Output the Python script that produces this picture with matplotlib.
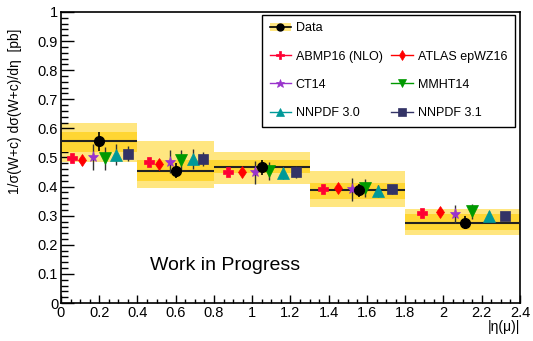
import matplotlib
matplotlib.use("Agg")
import matplotlib.pyplot as plt
from matplotlib.lines import Line2D
from matplotlib.patches import Patch
from matplotlib.ticker import MultipleLocator, FuncFormatter

plt.rcParams['font.family'] = ['Liberation Sans', 'DejaVu Sans']

# bins in |eta(mu)|
bin_lo = [0.0, 0.4, 0.8, 1.3, 1.8]
bin_hi = [0.4, 0.8, 1.3, 1.8, 2.4]

# measured data
data_x = [0.20, 0.60, 1.05, 1.56, 2.11]
data_y = [0.555, 0.455, 0.466, 0.387, 0.276]
data_err = [0.034, 0.025, 0.025, 0.022, 0.022]
band_outer_lo = [0.485, 0.395, 0.410, 0.330, 0.234]
band_outer_hi = [0.620, 0.555, 0.520, 0.454, 0.323]
band_inner_lo = [0.519, 0.420, 0.445, 0.357, 0.250]
band_inner_hi = [0.588, 0.490, 0.490, 0.412, 0.306]

# predictions: x positions, values, errors
abmp_x = [0.056, 0.46, 0.875, 1.37, 1.89]
abmp_y = [0.497, 0.486, 0.449, 0.392, 0.309]
abmp_err = [0.010, 0.010, 0.010, 0.008, 0.008]

atlas_x = [0.11, 0.51, 0.945, 1.45, 1.98]
atlas_y = [0.490, 0.478, 0.449, 0.395, 0.313]
atlas_err = [0.015, 0.015, 0.012, 0.012, 0.010]

ct14_x = [0.17, 0.57, 1.016, 1.52, 2.06]
ct14_y = [0.503, 0.486, 0.449, 0.390, 0.306]
ct14_err = [0.045, 0.040, 0.040, 0.040, 0.030]

mmht_x = [0.23, 0.63, 1.088, 1.59, 2.15]
mmht_y = [0.497, 0.490, 0.454, 0.395, 0.315]
mmht_err = [0.040, 0.035, 0.030, 0.030, 0.025]

nnpdf30_x = [0.286, 0.69, 1.16, 1.66, 2.24]
nnpdf30_y = [0.510, 0.494, 0.447, 0.385, 0.300]
nnpdf30_err = [0.035, 0.035, 0.020, 0.020, 0.015]

nnpdf31_x = [0.35, 0.74, 1.23, 1.73, 2.32]
nnpdf31_y = [0.513, 0.494, 0.450, 0.390, 0.300]
nnpdf31_err = [0.025, 0.025, 0.020, 0.015, 0.012]

x_ticks = [0, 0.2, 0.4, 0.6, 0.8, 1, 1.2, 1.4, 1.6, 1.8, 2, 2.2, 2.4]
y_ticks = [0, 0.1, 0.2, 0.3, 0.4, 0.5, 0.6, 0.7, 0.8, 0.9, 1]

OUTER_COLOR = '#ffe680'
INNER_COLOR = '#ffd633'


def draw_data(ax):
    widths = [h - l for l, h in zip(bin_lo, bin_hi)]
    outer_h = [h - l for l, h in zip(band_outer_lo, band_outer_hi)]
    inner_h = [h - l for l, h in zip(band_inner_lo, band_inner_hi)]
    ax.bar(bin_lo, outer_h, width=widths, bottom=band_outer_lo, align='edge',
           color=OUTER_COLOR, linewidth=0, zorder=1)
    ax.bar(bin_lo, inner_h, width=widths, bottom=band_inner_lo, align='edge',
           color=INNER_COLOR, linewidth=0, zorder=2)
    ax.hlines(data_y, bin_lo, bin_hi, color='#222222', linewidth=1.5, zorder=3)
    ax.errorbar(data_x, data_y, yerr=data_err, fmt='o', color='black',
                markersize=7, elinewidth=1.2, capsize=0, zorder=6)


def draw_predictions(ax):
    preds = [
        (abmp_x, abmp_y, abmp_err, 'P', '#ff0033', 7.5, 'ABMP16 (NLO)'),
        (atlas_x, atlas_y, atlas_err, 'd', '#ff0000', 6, 'ATLAS epWZ16'),
        (ct14_x, ct14_y, ct14_err, '*', '#9933cc', 8, 'CT14'),
        (mmht_x, mmht_y, mmht_err, 'v', '#009900', 8, 'MMHT14'),
        (nnpdf30_x, nnpdf30_y, nnpdf30_err, '^', '#009999', 8, 'NNPDF 3.0'),
        (nnpdf31_x, nnpdf31_y, nnpdf31_err, 's', '#333366', 7, 'NNPDF 3.1'),
    ]
    handles = {}
    for xs, ys, errs, marker, color, ms, label in preds:
        ax.errorbar(xs, ys, yerr=errs, fmt='none', ecolor='#333333',
                    elinewidth=1.0, capsize=0, zorder=4)
        ax.plot(xs, ys, linestyle='none', marker=marker, color=color,
                markersize=ms, markeredgewidth=0.5, zorder=5)
        handles[label] = Line2D([], [], color=color, marker=marker,
                                markersize=ms * 0.8, linewidth=1.0,
                                markeredgewidth=0.5)
    return handles


def draw_legend(ax, handles):
    data_handle = (Patch(facecolor=OUTER_COLOR, edgecolor='none'),
                   Line2D([], [], color='black', marker='o', markersize=5,
                          linewidth=1.2))
    blank = Line2D([], [], alpha=0)
    order = [data_handle, handles['ABMP16 (NLO)'], handles['CT14'],
             handles['NNPDF 3.0'], blank, handles['ATLAS epWZ16'],
             handles['MMHT14'], handles['NNPDF 3.1']]
    labels = ['Data', 'ABMP16 (NLO)', 'CT14', 'NNPDF 3.0', '',
              'ATLAS epWZ16', 'MMHT14', 'NNPDF 3.1']
    leg = ax.legend(order, labels, ncol=2, loc='upper left',
                    bbox_to_anchor=(0.438, 0.99), borderaxespad=0,
                    fontsize=9, frameon=True, fancybox=False, framealpha=1,
                    edgecolor='black', borderpad=0.6, labelspacing=1.3,
                    handlelength=1.7, handletextpad=0.4, columnspacing=0.7)
    leg.get_frame().set_linewidth(1.0)
    leg.set_zorder(10)


def setup_axes(ax):
    ax.set_xlim(0, 2.4)
    ax.set_ylim(0, 1)
    ax.set_xticks(x_ticks)
    ax.set_yticks(y_ticks)
    fmt = FuncFormatter(lambda v, p: '%g' % v)
    ax.xaxis.set_major_formatter(fmt)
    ax.yaxis.set_major_formatter(fmt)
    ax.xaxis.set_minor_locator(MultipleLocator(0.05))
    ax.yaxis.set_minor_locator(MultipleLocator(0.02))
    ax.tick_params(which='both', direction='in', top=False, right=False,
                   labelsize=10.5, pad=2, width=1)
    ax.tick_params(axis='x', which='major', length=6)
    ax.tick_params(axis='x', which='minor', length=3)
    ax.tick_params(axis='y', which='major', length=9)
    ax.tick_params(axis='y', which='minor', length=5)
    for spine in ax.spines.values():
        spine.set_linewidth(1.2)
    ax.set_ylabel('1/σ(W+c) dσ(W+c)/dη  [pb]', fontsize=10, labelpad=4)
    ax.yaxis.set_label_coords(-0.085, 0.66)
    ax.set_xlabel('|η(μ)|', fontsize=10)
    ax.xaxis.set_label_coords(1.0, -0.058)
    ax.xaxis.label.set_horizontalalignment('right')
    ax.xaxis.label.set_verticalalignment('top')


def main():
    fig = plt.figure(figsize=(5.33, 3.41), dpi=100)
    ax = fig.add_axes([0.1144, 0.1114, 0.8612, 0.8536])
    setup_axes(ax)
    draw_data(ax)
    handles = draw_predictions(ax)
    draw_legend(ax, handles)
    ax.text(0.465, 0.13, 'Work in Progress', fontsize=14, va='center',
            ha='left')
    fig.savefig('out.png', dpi=100)


if __name__ == "__main__":
    main()
